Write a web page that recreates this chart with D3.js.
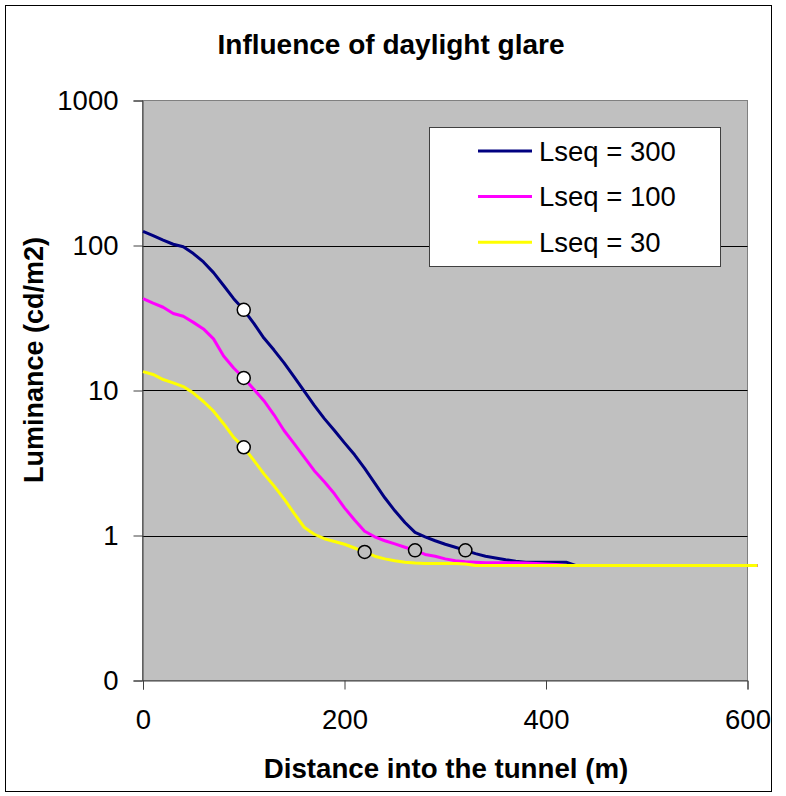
<!DOCTYPE html>
<html>
<head>
<meta charset="utf-8">
<script src="https://cdn.jsdelivr.net/npm/d3@7"></script>
<style>
  html, body { margin: 0; padding: 0; background: #fff; }
  svg { display: block; }
  text { font-family: "Liberation Sans", Arial, sans-serif; fill: #000; }
</style>
</head>
<body>
<svg id="chart" width="786" height="796"></svg>
<script>
// Distance into the tunnel (m), sampled every 10 m
const distance = d3.range(0, 611, 10);

// Luminance (cd/m2) for each adaptation luminance Lseq
const lseq300 = [125, 117, 109, 102, 98, 88, 77, 65, 53, 43,
  36, 29, 23, 19, 15.5, 12.4, 9.9, 7.9, 6.4, 5.3,
  4.35, 3.6, 2.9, 2.3, 1.82, 1.48, 1.23, 1.05, 0.98, 0.92,
  0.87, 0.83, 0.79, 0.75, 0.72, 0.70, 0.68, 0.665, 0.655, 0.655,
  0.655, 0.655, 0.655, 0.62, 0.62, 0.62, 0.62, 0.62, 0.62, 0.62,
  0.62, 0.62, 0.62, 0.62, 0.62, 0.62, 0.62, 0.62, 0.62, 0.62,
  0.62, 0.62];
const lseq100 = [43, 40, 37.5, 34, 32.5, 29.5, 26.6, 22.7, 17.3, 14.3,
  12.2, 10.2, 8.5, 6.8, 5.3, 4.3, 3.47, 2.8, 2.35, 1.94,
  1.55, 1.28, 1.07, 0.98, 0.92, 0.875, 0.83, 0.79, 0.74, 0.72,
  0.69, 0.67, 0.66, 0.655, 0.65, 0.65, 0.65, 0.65, 0.645, 0.64,
  0.635, 0.63, 0.62, 0.62, 0.62, 0.62, 0.62, 0.62, 0.62, 0.62,
  0.62, 0.62, 0.62, 0.62, 0.62, 0.62, 0.62, 0.62, 0.62, 0.62,
  0.62, 0.62];
const lseq30 = [13.5, 12.9, 11.9, 11.3, 10.65, 9.6, 8.4, 7.2, 5.9, 4.75,
  4.06, 3.3, 2.66, 2.2, 1.79, 1.42, 1.14, 1.02, 0.95, 0.91,
  0.87, 0.82, 0.77, 0.72, 0.69, 0.67, 0.655, 0.645, 0.64, 0.64,
  0.64, 0.64, 0.635, 0.62, 0.62, 0.62, 0.62, 0.62, 0.62, 0.62,
  0.62, 0.62, 0.62, 0.62, 0.62, 0.62, 0.62, 0.62, 0.62, 0.62,
  0.62, 0.62, 0.62, 0.62, 0.62, 0.62, 0.62, 0.62, 0.62, 0.62,
  0.62, 0.62];

const seriesNames = ["Lseq = 300", "Lseq = 100", "Lseq = 30"];
const seriesColors = ["#000080", "#FF00FF", "#FFFF00"];
const seriesValues = [lseq300, lseq100, lseq30];

// Reference points: values at 100 m, and where each curve meets the floor
const openDistance = [100, 100, 100];
const openValue = [36, 12.2, 4.06];
const floorDistance = [220, 270, 320];
const floorValue = [0.77, 0.79, 0.79];

// Axis ticks
const xTicks = [0, 200, 400, 600];
const yTicks = [0.1, 1, 10, 100, 1000];
const yTickLabels = ["0", "1", "10", "100", "1000"];

const svg = d3.select("#chart");
const plot = { left: 142.5, right: 747.5, top: 100.5, bottom: 680.5 };

const x = d3.scaleLinear().domain([0, 600]).range([plot.left + 0.5, plot.right]);
const y = d3.scaleLog().domain([0.1, 1000]).range([plot.bottom, plot.top]);

// Outer chart frame
svg.append("rect")
  .attr("x", 5.5).attr("y", 5.5).attr("width", 766).attr("height", 786)
  .attr("fill", "#fff").attr("stroke", "#000").attr("stroke-width", 1);

// Plot area
svg.append("rect")
  .attr("x", plot.left).attr("y", plot.top)
  .attr("width", plot.right - plot.left).attr("height", plot.bottom - plot.top)
  .attr("fill", "#C0C0C0").attr("stroke", "#808080").attr("stroke-width", 1);

// Horizontal gridlines
svg.append("g").selectAll("line")
  .data([1, 10, 100])
  .join("line")
  .attr("x1", plot.left).attr("x2", plot.right)
  .attr("y1", d => Math.round(y(d)) + 0.5).attr("y2", d => Math.round(y(d)) + 0.5)
  .attr("stroke", "#000").attr("stroke-width", 1);

// Y axis
const yAxis = svg.append("g")
  .attr("transform", `translate(${plot.left},0)`)
  .call(d3.axisLeft(y).tickValues(yTicks)
    .tickFormat((d, i) => yTickLabels[i]).tickSize(9).tickPadding(15));
yAxis.select(".domain").attr("stroke", "#404040");
yAxis.selectAll(".tick line").attr("stroke", "#404040");
yAxis.selectAll(".tick text")
  .attr("font-size", "27.5px").attr("font-family", "Liberation Sans, Arial, sans-serif");

// X axis
const xAxis = svg.append("g")
  .attr("transform", `translate(0,${plot.bottom})`)
  .call(d3.axisBottom(x).tickValues(xTicks).tickFormat(d3.format("d")).tickSize(9).tickPadding(20));
xAxis.select(".domain").attr("stroke", "#404040");
xAxis.selectAll(".tick line").attr("stroke", "#404040");
xAxis.selectAll(".tick text")
  .attr("font-size", "27.5px").attr("font-family", "Liberation Sans, Arial, sans-serif");

// Curves
const line = d3.line()
  .x((d, i) => x(distance[i]))
  .y(d => y(d));

svg.append("g").selectAll("path")
  .data(seriesValues)
  .join("path")
  .attr("d", d => line(d))
  .attr("fill", "none")
  .attr("stroke", (d, i) => seriesColors[i])
  .attr("stroke-width", 3)
  .attr("stroke-linejoin", "round");

// Reference markers
svg.append("g").selectAll("circle")
  .data(openDistance.map((d, i) => [d, openValue[i]]))
  .join("circle")
  .attr("cx", d => x(d[0])).attr("cy", d => y(d[1])).attr("r", 6.5)
  .attr("fill", "#fff").attr("stroke", "#000").attr("stroke-width", 1.5);

svg.append("g").selectAll("circle")
  .data(floorDistance.map((d, i) => [d, floorValue[i]]))
  .join("circle")
  .attr("cx", d => x(d[0])).attr("cy", d => y(d[1])).attr("r", 6.5)
  .attr("fill", "#C0C0C0").attr("stroke", "#000").attr("stroke-width", 1.5);

// Legend
const legend = svg.append("g");
legend.append("rect")
  .attr("x", 429.5).attr("y", 127.5).attr("width", 291).attr("height", 139)
  .attr("fill", "#fff").attr("stroke", "#404040").attr("stroke-width", 1);
const rows = legend.selectAll("g.row")
  .data(seriesNames)
  .join("g")
  .attr("class", "row")
  .attr("transform", (d, i) => `translate(0,${151 + i * 45.6})`);
rows.append("line")
  .attr("x1", 478).attr("x2", 532).attr("y1", 0).attr("y2", 0)
  .attr("stroke", (d, i) => seriesColors[i]).attr("stroke-width", 3);
rows.append("text")
  .attr("x", 539).attr("y", 9.5)
  .attr("font-size", "27.5px")
  .text(d => d);

// Titles
svg.append("text")
  .attr("x", 391).attr("y", 54)
  .attr("text-anchor", "middle")
  .attr("font-size", "28px").attr("font-weight", "bold")
  .text("Influence of daylight glare");

svg.append("text")
  .attr("x", 446).attr("y", 778)
  .attr("text-anchor", "middle")
  .attr("font-size", "27.7px").attr("font-weight", "bold")
  .text("Distance into the tunnel (m)");

svg.append("text")
  .attr("transform", "translate(43,360) rotate(-90)")
  .attr("text-anchor", "middle")
  .attr("font-size", "27px").attr("font-weight", "bold")
  .text("Luminance (cd/m2)");
</script>
</body>
</html>
